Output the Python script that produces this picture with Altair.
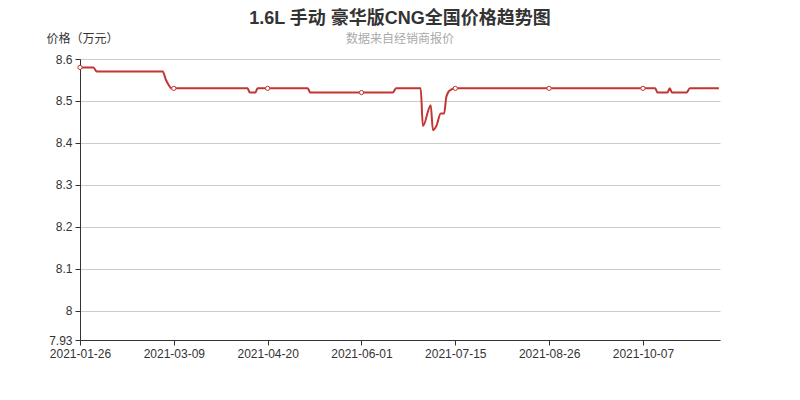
import altair as alt
import pandas as pd

# x position in "day units" (42 units between labelled ticks)
day_idx = [0, 6, 7.5, 37, 38.5, 39.5, 41, 42, 75, 76, 78.5, 79.5, 84, 102, 103,
           126, 140, 141.5, 152.5, 153.5, 157, 158, 159.5, 161.5, 163, 164, 165.5,
           168, 210, 252, 257.5, 258.5, 263, 264, 265, 271.5, 273, 286]
prices = [8.58, 8.58, 8.57, 8.57, 8.55, 8.54, 8.53, 8.53, 8.53, 8.52, 8.52, 8.53, 8.53, 8.53, 8.52,
          8.52, 8.52, 8.53, 8.53, 8.44, 8.49, 8.43, 8.44, 8.47, 8.47, 8.51, 8.525,
          8.53, 8.53, 8.53, 8.53, 8.52, 8.52, 8.53, 8.52, 8.52, 8.53, 8.53]
tick_labels = ["2021-01-26", "2021-03-09", "2021-04-20", "2021-06-01",
               "2021-07-15", "2021-08-26", "2021-10-07"]
tick_pos = [0, 42, 84, 126, 168, 210, 252]
y_ticks = [7.93, 8.0, 8.1, 8.2, 8.3, 8.4, 8.5, 8.6]

df = pd.DataFrame({"idx": day_idx, "price": prices})

label_arr = "[" + ",".join(f"'{t}'" for t in tick_labels) + "]"
RED = "#c23531"
FONT = "Liberation Sans, Noto Sans CJK SC, sans-serif"

x = alt.X("idx:Q", scale=alt.Scale(domain=[0, 286.5], nice=False, zero=False),
          axis=alt.Axis(values=tick_pos, labelExpr=f"{label_arr}[round(datum.value/42)]",
                        grid=False, title=None, tickSize=5, labelPadding=3,
                        labelFlush=False, labelOverlap=False,
                        domainColor="#333", tickColor="#333", labelColor="#333",
                        labelFontSize=12, labelFont=FONT))
y = alt.Y("price:Q", scale=alt.Scale(domain=[7.93, 8.6], nice=False, zero=False),
          axis=alt.Axis(values=y_ticks, format=".2~f", title="价格（万元）",
                        titleAngle=0, titleAlign="center", titleBaseline="middle",
                        titleX=2, titleY=-21, titleFontWeight="normal",
                        titleFontSize=12, titleColor="#333", titleFont=FONT,
                        grid=True, gridColor="#ccc", tickSize=5, labelPadding=3,
                        labelFlush=False, labelOverlap=False,
                        domainColor="#333", tickColor="#333", labelColor="#333",
                        labelFontSize=12, labelFont=FONT))

line = alt.Chart(df).mark_line(color=RED, strokeWidth=2, interpolate="monotone").encode(x=x, y=y)
pts = alt.Chart(df).transform_filter("datum.idx % 42 == 0").mark_point(
    filled=True, fill="white", stroke=RED, strokeWidth=1, size=18, opacity=1
).encode(x="idx:Q", y="price:Q")

chart = alt.layer(line, pts).properties(
    width=640, height=281,
    autosize=alt.AutoSizeParams(type="none"),
    padding={"left": 72, "top": 51, "right": 72, "bottom": 52},
    title=alt.TitleParams(text="1.6L 手动 豪华版CNG全国价格趋势图",
                          subtitle="数据来自经销商报价",
                          anchor="middle", fontSize=18, fontWeight="bold",
                          color="#333", font=FONT,
                          subtitleFontSize=12, subtitleColor="#aaa",
                          subtitleFont=FONT, subtitlePadding=6, offset=-13),
).configure_view(stroke=None)

chart.save("out.html", embed_options={"renderer": "svg", "actions": False})
